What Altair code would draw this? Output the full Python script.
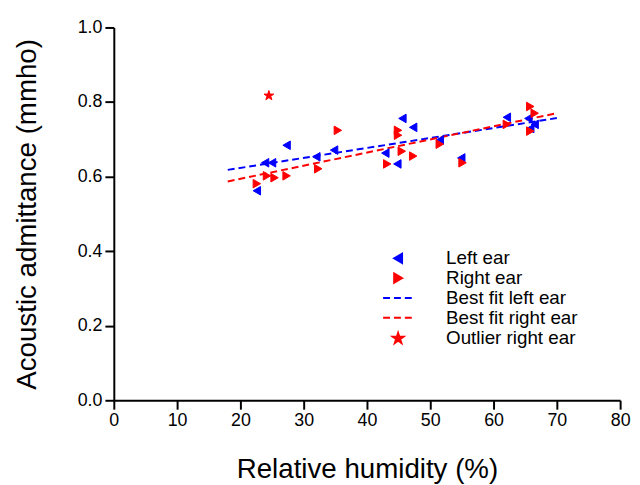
import altair as alt
import pandas as pd

# Series names (legend order)
series = ["Left ear", "Right ear", "Best fit left ear", "Best fit right ear", "Outlier right ear"]

# Left ear measurements
left_x = [22.6, 23.9, 25.0, 27.3, 32.0, 34.8, 42.9, 44.8, 45.6, 47.3, 51.5, 54.9, 62.1, 65.5, 65.8, 66.5]
left_y = [0.562, 0.637, 0.637, 0.684, 0.653, 0.671, 0.663, 0.634, 0.756, 0.732, 0.698, 0.650, 0.759, 0.756, 0.729, 0.740]

# Right ear measurements
right_x = [22.6, 24.2, 25.4, 27.3, 32.3, 35.4, 43.2, 44.9, 44.9, 45.5, 47.3, 51.5, 55.1, 62.1, 65.8, 65.8, 66.5]
right_y = [0.581, 0.602, 0.597, 0.602, 0.621, 0.724, 0.634, 0.724, 0.711, 0.668, 0.655, 0.687, 0.637, 0.740, 0.788, 0.722, 0.770]

# Outlier (right ear)
outlier_x = [24.5]
outlier_y = [0.817]

# Best fit lines (end points)
fit_x = [18, 70]
fit_left_y = [0.618, 0.757]
fit_right_y = [0.587, 0.770]

x_ticks = [0, 10, 20, 30, 40, 50, 60, 70, 80]
y_ticks = [0.0, 0.2, 0.4, 0.6, 0.8, 1.0]

BLUE = "#0000ff"
RED = "#ff0000"

pts = pd.concat([
    pd.DataFrame({"x": left_x, "y": left_y, "series": "Left ear"}),
    pd.DataFrame({"x": right_x, "y": right_y, "series": "Right ear"}),
    pd.DataFrame({"x": outlier_x, "y": outlier_y, "series": "Outlier right ear"}),
], ignore_index=True)

lines = pd.concat([
    pd.DataFrame({"x": fit_x, "y": fit_left_y, "series": "Best fit left ear"}),
    pd.DataFrame({"x": fit_x, "y": fit_right_y, "series": "Best fit right ear"}),
], ignore_index=True)

STAR = ("M0,-1.2L0.27,-0.371L1.141,-0.371L0.436,0.142L0.706,0.971L0,0.458"
        "L-0.706,0.971L-0.436,0.142L-1.141,-0.371L-0.27,-0.371Z")
LINE = "M-3.3,0H3.3"

fill_range = [BLUE, RED, "transparent", "transparent", RED]
stroke_range = [BLUE, RED, BLUE, RED, RED]
shape_range = ["triangle-left", "triangle-right", LINE, LINE, STAR]
dash_range = [[1, 0], [1, 0], [7, 4], [7, 4], [1, 0]]

xenc = alt.X("x:Q", scale=alt.Scale(domain=[0, 80], nice=False),
             axis=alt.Axis(values=x_ticks, title="Relative humidity (%)", format="d"))
yenc = alt.Y("y:Q", scale=alt.Scale(domain=[0, 1], nice=False),
             axis=alt.Axis(values=y_ticks, title="Acoustic admittance (mmho)", format=".1f"))

leg = alt.Legend(title=None)

line_layer = alt.Chart(lines).mark_line(strokeWidth=2).encode(
    x=xenc, y=yenc,
    stroke=alt.Stroke("series:N", scale=alt.Scale(domain=series, range=stroke_range), legend=leg),
    strokeDash=alt.StrokeDash("series:N", scale=alt.Scale(domain=series, range=dash_range), legend=leg),
)

point_layer = alt.Chart(pts).mark_point(filled=True, size=75, strokeWidth=1, opacity=1).encode(
    x=xenc, y=yenc,
    fill=alt.Fill("series:N", scale=alt.Scale(domain=series, range=fill_range), legend=leg),
    stroke=alt.Stroke("series:N", scale=alt.Scale(domain=series, range=stroke_range), legend=leg),
    shape=alt.Shape("series:N", scale=alt.Scale(domain=series, range=shape_range), legend=leg),
)

chart = alt.layer(line_layer, point_layer).properties(
    width=512, height=377,
    autosize=alt.AutoSizeParams(type="none"),
    padding={"left": 107, "top": 17, "right": 12, "bottom": 83},
).configure_view(stroke=None).configure_axis(
    grid=False,
    domainColor="black", domainWidth=2,
    tickColor="black", tickWidth=2, tickSize=9,
    labelFont="Liberation Sans", labelFontSize=18, labelColor="black", labelPadding=3,
    titleFont="Liberation Sans", titleFontSize=28, titleFontWeight="normal", titleColor="black",
    labelFlush=False,
).configure_axisY(titlePadding=36).configure_axisX(titlePadding=26).configure_legend(
    orient="none", legendX=278, legendY=224,
    labelFont="Liberation Sans", labelFontSize=19, labelColor="black",
    symbolSize=85, symbolStrokeWidth=2, symbolOpacity=1,
    rowPadding=0, labelOffset=39, padding=0,
)

chart.save("out.html", embed_options={"renderer": "svg", "actions": False})
